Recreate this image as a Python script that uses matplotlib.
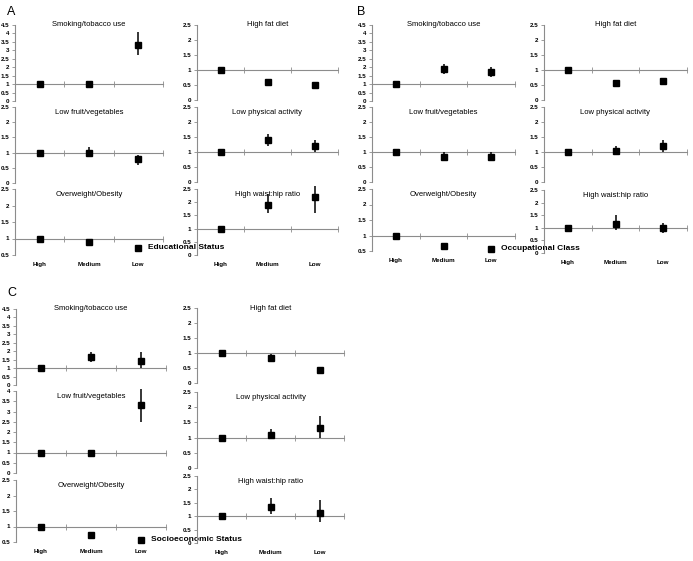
import matplotlib
matplotlib.use("Agg")
import matplotlib.pyplot as plt

# odds ratios (High is the reference group)
categories = ["High", "Medium", "Low"]
factors = ["Smoking/tobacco use", "High fat diet", "Low fruit/vegetables",
           "Low physical activity", "Overweight/Obesity", "High waist:hip ratio"]

# A: educational status
edu_or = [[1, 1.0, 3.3], [1, 0.6, 0.5], [1, 1.0, 0.8],
          [1, 1.4, 1.2], [1, 0.9, 0.7], [1, 1.9, 2.2]]
edu_lo = [[1, 0.8, 2.7], [1, 0.55, 0.45], [1, 0.85, 0.6],
          [1, 1.2, 1.0], [1, 0.82, 0.6], [1, 1.6, 1.6]]
edu_hi = [[1, 1.2, 4.1], [1, 0.66, 0.56], [1, 1.2, 0.92],
          [1, 1.6, 1.4], [1, 1.0, 0.8], [1, 2.3, 2.6]]

# B: occupational class
occ_or = [[1, 1.9, 1.7], [1, 0.58, 0.63], [1, 0.85, 0.85],
          [1, 1.05, 1.2], [1, 0.67, 0.57], [1, 1.17, 0.98]]
occ_lo = [[1, 1.6, 1.4], [1, 0.52, 0.57], [1, 0.74, 0.72],
          [1, 0.9, 1.0], [1, 0.63, 0.53], [1, 0.9, 0.78]]
occ_hi = [[1, 2.2, 2.0], [1, 0.65, 0.7], [1, 1.0, 1.0],
          [1, 1.2, 1.4], [1, 0.72, 0.62], [1, 1.5, 1.2]]

# C: socioeconomic status
ses_or = [[1, 1.65, 1.45], [1, 0.85, 0.45], [1, 0.97, 3.3],
          [1, 1.1, 1.3], [1, 0.72, 0.55], [1, 1.36, 1.13]]
ses_lo = [[1, 1.35, 1.0], [1, 0.75, 0.38], [1, 0.85, 2.5],
          [1, 0.98, 1.0], [1, 0.65, 0.5], [1, 1.1, 0.78]]
ses_hi = [[1, 1.97, 1.97], [1, 0.97, 0.52], [1, 1.1, 4.1],
          [1, 1.27, 1.7], [1, 0.8, 0.62], [1, 1.67, 1.62]]

W, H = 693, 561
plt.rcParams["font.family"] = ["Liberation Sans", "DejaVu Sans"]
fig = plt.figure(figsize=(W / 100, H / 100), dpi=100)
GRAY = "#8c8c8c"


def box(x0, x1, y0, y1):
    return [x0 / W, 1 - y1 / H, (x1 - x0) / W, (y1 - y0) / H]


def draw_group(letter, legend, ors, los, his, cols, rows_l, rows_r, ylims, letter_xy):
    fig.text(letter_xy[0] / W, 1 - letter_xy[1] / H, letter, fontsize=9,
             ha="left", va="center")
    for i, name in enumerate(factors):
        r, c = i // 2, i % 2
        x0, x1 = cols[c]
        y0, y1 = (rows_l if c == 0 else rows_r)[r]
        ax = fig.add_axes(box(x0, x1, y0, y1))
        ax.patch.set_visible(False)
        vals, lo, hi = ors[i], los[i], his[i]
        err = [[v - l for v, l in zip(vals, lo)], [h - v for v, h in zip(vals, hi)]]
        ax.errorbar(range(3), vals, yerr=err, fmt="s", color="black", ms=4,
                    elinewidth=1.1, capsize=0, zorder=3, clip_on=False)
        ymin, ymax = ylims[i]
        ax.set_ylim(ymin, ymax)
        ax.set_xlim(-0.5, 2.5)
        ticks = [ymin + 0.5 * k for k in range(int(round((ymax - ymin) / 0.5)) + 1)]
        ax.set_yticks(ticks)
        ax.set_yticklabels(["%g" % t for t in ticks], fontsize=4.5, fontweight="bold")
        ax.set_xticks([0.5, 1.5, 2.5])
        ax.set_xticklabels([])
        for s in ["top", "right"]:
            ax.spines[s].set_visible(False)
        ax.spines["bottom"].set_position(("data", 1))
        ax.spines["bottom"].set_color(GRAY)
        ax.spines["left"].set_color(GRAY)
        ax.spines["bottom"].set_linewidth(0.8)
        ax.spines["left"].set_linewidth(0.8)
        ax.tick_params(axis="x", direction="inout", length=4, color=GRAY, width=0.6)
        ax.tick_params(axis="y", direction="out", length=2.5, color=GRAY, width=0.6, pad=1.5)
        dy = 0 if r == 0 else -4
        ax.annotate(name, xy=(0.5, 1), xycoords="axes fraction", xytext=(0, dy),
                    textcoords="offset points", ha="center", va="center", fontsize=5.5)
        if r == 2:
            for k, cat in enumerate(categories):
                ax.annotate(cat, xy=(k, 0), xycoords=("data", "axes fraction"),
                            xytext=(0, -7), textcoords="offset points", ha="center",
                            va="center", fontsize=4.5, fontweight="bold",
                            annotation_clip=False)
        if i == 4:
            ax.annotate(legend, xy=(2, vals[2]), xytext=(7, 0.5), textcoords="offset points",
                        ha="left", va="center", fontsize=6, fontweight="bold",
                        annotation_clip=False, zorder=5)


lims = [(0, 4.5), (0, 2.5), (0, 2.5), (0, 2.5), (0.5, 2.5), (0, 2.5)]
lims_c = [(0, 4.5), (0, 2.5), (0, 4), (0, 2.5), (0.5, 2.5), (0, 2.5)]

draw_group("A", "Educational Status", edu_or, edu_lo, edu_hi,
           [(15, 163), (197, 338)],
           [(25, 101), (107, 183), (189, 255)],
           [(25, 100), (107, 182), (189, 255)], lims, (7, 12))
draw_group("B", "Occupational Class", occ_or, occ_lo, occ_hi,
           [(372, 515), (544, 687)],
           [(25, 101), (107, 182), (189, 251)],
           [(25, 100), (107, 182), (190, 253)], lims, (357, 12))
draw_group("C", "Socioeconomic Status", ses_or, ses_lo, ses_hi,
           [(16, 166), (197, 344)],
           [(309, 385), (391, 473), (480, 542)],
           [(308, 383), (392, 468), (476, 543)], lims_c, (7, 293))

fig.savefig("out.png", dpi=100, facecolor="white")
